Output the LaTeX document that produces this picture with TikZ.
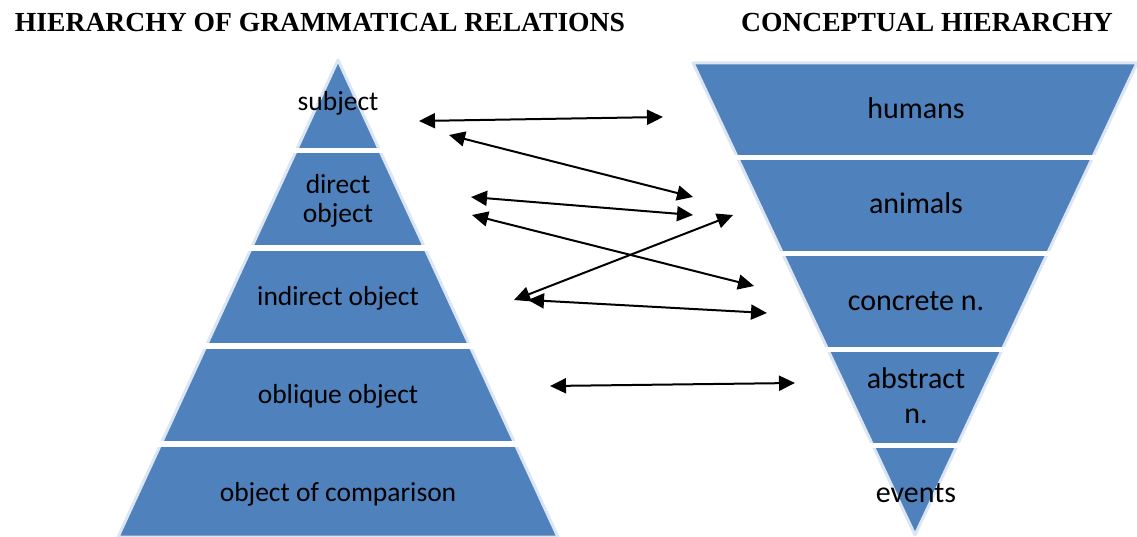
\documentclass[tikz,border=0pt]{standalone}
\usepackage{fontspec}
\setmainfont{Carlito}
\newfontfamily\titlefont{Liberation Serif}
\usetikzlibrary{arrows.meta}
\definecolor{layerblue}{HTML}{4F81BD}
\definecolor{halo}{HTML}{DCE6F2}
\tikzset{
  pyr/.style={fill=layerblue, draw=halo, line width=3pt, line join=round},
  gapline/.style={white, line width=5.5pt},
  leftlbl/.style={anchor=base, align=center, text=black, inner sep=0pt, font={\fontsize{27.5}{29.4}\selectfont}},
  rightlbl/.style={anchor=base, align=center, text=black, inner sep=0pt, font={\fontsize{30}{35}\selectfont}},
  titlelbl/.style={anchor=base, inner sep=0pt, font={\titlefont\bfseries\fontsize{27.6}{30}\selectfont}},
  link/.style={line width=2pt, {Triangle[length=16pt,width=15pt]}-{Triangle[length=16pt,width=15pt]}}
}
\begin{document}
\begin{tikzpicture}[x=1pt,y=-1pt]
\useasboundingbox (0,0) rectangle (1137,537);
% titles
\node[titlelbl] (t1) at (320,32) {HIERARCHY OF GRAMMATICAL RELATIONS};
\node[titlelbl] (t2) at (927,32) {CONCEPTUAL HIERARCHY};
% left pyramid
\fill[pyr] (338,60) -- (558,537) -- (118,537) -- cycle;
\draw[gapline] (290,150.5) -- (386,150.5);
\draw[gapline] (245,248) -- (431,248);
\draw[gapline] (200,346) -- (476,346);
\draw[gapline] (155,444) -- (521,444);
% right inverted pyramid
\fill[pyr] (693,63) -- (1137,63) -- (915,535) -- cycle;
\draw[gapline] (731,157.5) -- (1099,157.5);
\draw[gapline] (776,253.7) -- (1054,253.7);
\draw[gapline] (822,349.7) -- (1008,349.7);
\draw[gapline] (867,445.5) -- (963,445.5);
% left labels
\node[leftlbl] (subj) at (338,110.7) {subject};
\node[leftlbl] (dobj) at (338,222.7) {direct\\object};
\node[leftlbl] (iobj) at (338,305.7) {indirect object};
\node[leftlbl] (oobj) at (338,403.3) {oblique object};
\node[leftlbl] (cobj) at (338,501) {object of comparison};
% right labels
\node[rightlbl] (hum) at (916,118.3) {humans};
\node[rightlbl] (ani) at (916,214) {animals};
\node[rightlbl] (con) at (916,310) {concrete n.};
\node[rightlbl] (abs) at (916,423.3) {abstract\\n.};
\node[rightlbl] (evt) at (916,502.7) {events};
% arrow end points
\coordinate (a1l) at (419,121);  \coordinate (a1r) at (663,117);
\coordinate (a2l) at (449,135);  \coordinate (a2r) at (693,197);
\coordinate (a3l) at (471,197);  \coordinate (a3r) at (693,215);
\coordinate (a4l) at (472,215);  \coordinate (a4r) at (754,286);
\coordinate (a5l) at (514,300);  \coordinate (a5r) at (733,215);
\coordinate (a6l) at (528,300);  \coordinate (a6r) at (767,313);
\coordinate (a7l) at (550,386);  \coordinate (a7r) at (795,383);
\draw[link] (a1l) -- (a1r);
\draw[link] (a2l) -- (a2r);
\draw[link] (a3l) -- (a3r);
\draw[link] (a4l) -- (a4r);
\draw[link] (a5l) -- (a5r);
\draw[link] (a6l) -- (a6r);
\draw[link] (a7l) -- (a7r);
\end{tikzpicture}
\end{document}
